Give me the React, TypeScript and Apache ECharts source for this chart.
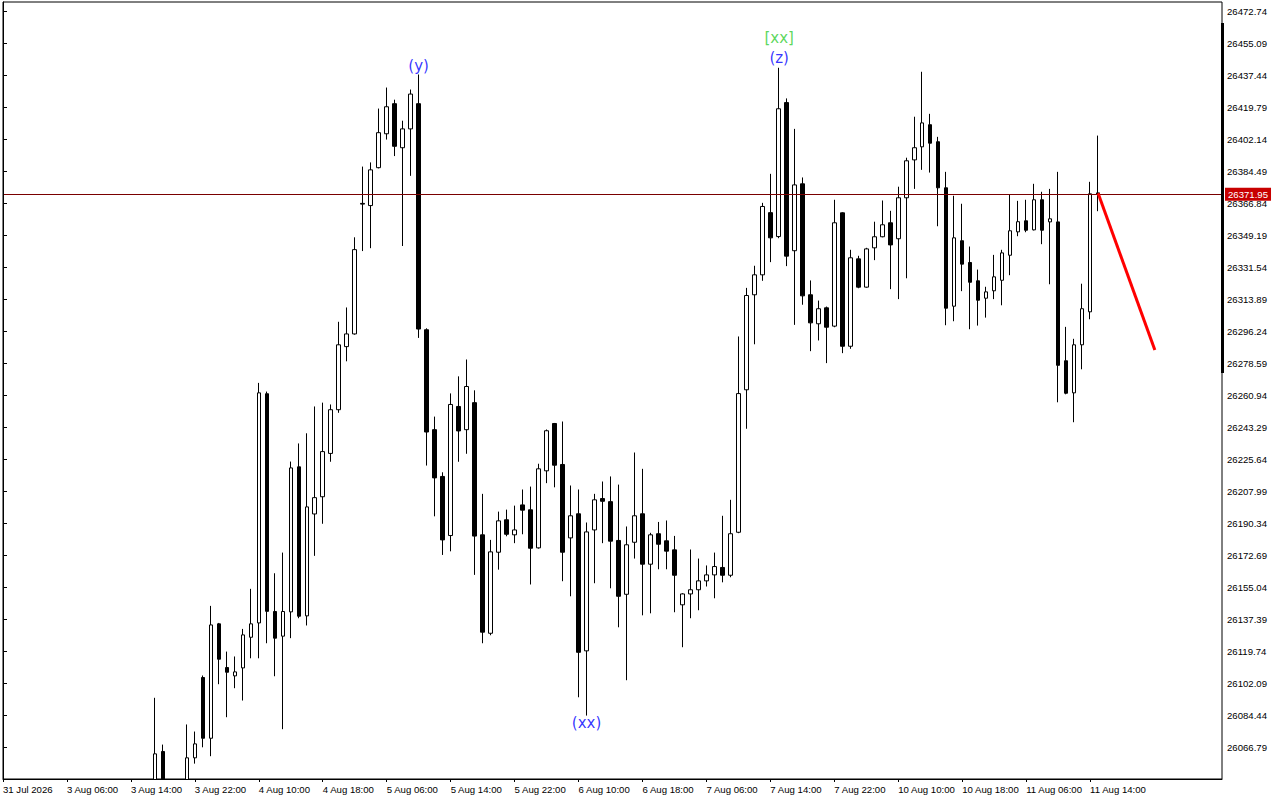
import React, { useEffect, useRef } from "react";
import * as echarts from "echarts";

// first bar index that carries data (bar i sits at the i-th hourly slot)
const FIRST_BAR = 19;

const opens = [
  26040, 26064.6, 26043, 26040, 26045, 26061.1, 26105.4, 26071.9, 26135.0, 26110.9,
  26106.3, 26110.7, 26127.6, 26135.5, 26261.9, 26141.8, 26128.2, 26141.6, 26221.6, 26139.4,
  26195.6, 26205.1, 26229.0, 26253.1, 26287.9, 26294.9, 26366.9, 26365.7, 26386.6, 26405.3,
  26421.9, 26397.6, 26408.0, 26421.9, 26297.2, 26242.1, 26216.3, 26183.7, 26254.9, 26242.1,
  26257.0, 26184.1, 26129.8, 26174.5, 26192.4, 26184.1, 26200.6, 26197.9, 26176.9, 26219.4,
  26245.5, 26222.9, 26182.4, 26195.7, 26120.1, 26186.8, 26204.1, 26202.4, 26181.0, 26151.3,
  26180.0, 26195.7, 26167.9, 26184.7, 26180.8, 26175.8, 26145.5, 26151.5, 26153.8, 26158.7,
  26162.0, 26166.1, 26161.8, 26185.5, 26264.1, 26316.5, 26327.5, 26361.8, 26348.6, 26422.5,
  26340.8, 26377.7, 26316.5, 26300.5, 26309.3, 26299.2, 26361.7, 26288.1, 26336.3, 26320.7,
  26342.4, 26348.5, 26356.2, 26347.4, 26370.0, 26390.9, 26398.1, 26410.3, 26400.9, 26375.5,
  26310.2, 26346.3, 26334.3, 26324.2, 26314.6, 26318.7, 26324.5, 26338.3, 26351.2, 26357.3,
  26352.3, 26368.9, 26356.7, 26356.7, 26280.1, 26262.4, 26288.9, 26307.1, 26372.7,
];
const closes = [
  26063.3, 26043, 26040, 26045, 26061.1, 26068.8, 26071.9, 26134.4, 26115.5, 26108.3,
  26108.5, 26128.9, 26135.0, 26262.4, 26141.9, 26127.1, 26141.8, 26221.0, 26139.2, 26199.5,
  26204.6, 26230.0, 26253.1, 26288.9, 26294.9, 26341.4, 26366.5, 26385.4, 26405.9, 26420.2,
  26398.4, 26408.0, 26427.2, 26297.6, 26240.8, 26215.5, 26181.3, 26256.0, 26241.4, 26265.9,
  26183.4, 26130.4, 26174.7, 26191.8, 26184.4, 26186.8, 26197.7, 26176.7, 26220.5, 26241.5,
  26222.5, 26174.5, 26194.6, 26119.3, 26185.7, 26203.4, 26202.6, 26180.6, 26150.2, 26178.6,
  26194.6, 26167.9, 26184.1, 26178.9, 26175.1, 26161.8, 26151.5, 26153.8, 26158.7, 26162.0,
  26166.6, 26161.8, 26184.7, 26262.0, 26316.1, 26327.5, 26365.2, 26347.9, 26419.1, 26337.8,
  26377.1, 26315.9, 26301.0, 26308.8, 26298.6, 26356.2, 26288.1, 26336.9, 26320.7, 26341.8,
  26348.5, 26355.1, 26344.0, 26370.0, 26390.4, 26397.6, 26411.3, 26400.1, 26375.5, 26309.1,
  26347.9, 26333.4, 26323.4, 26313.5, 26318.1, 26326.4, 26339.6, 26351.8, 26356.8, 26352.1,
  26368.9, 26352.1, 26358.4, 26277.6, 26262.2, 26288.9, 26308.8, 26372.2, 26371.95,
];
const lows = [
  26035, 26038, 26032, 26035, 26041, 26057.9, 26066.9, 26062.0, 26101.7, 26083.5,
  26099.5, 26092.7, 26116.0, 26116.0, 26124.3, 26106.1, 26076.9, 26127.1, 26138.1, 26134.1,
  26172.5, 26190.2, 26224.4, 26251.4, 26279.8, 26294.5, 26340.6, 26342.2, 26386.2, 26402.1,
  26393.0, 26343.4, 26382.1, 26292.7, 26222.3, 26194.3, 26173.0, 26175.0, 26224.4, 26228.8,
  26162.0, 26124.3, 26128.7, 26164.9, 26183.3, 26179.5, 26184.4, 26156.7, 26176.5, 26212.6,
  26210.3, 26158.5, 26150.2, 26094.5, 26084.4, 26157.4, 26179.5, 26154.6, 26133.1, 26103.9,
  26171.0, 26139.7, 26140.8, 26165.1, 26165.1, 26141.4, 26122.1, 26138.1, 26142.5, 26155.6,
  26149.1, 26157.9, 26160.7, 26185.0, 26242.6, 26289.2, 26324.2, 26334.5, 26347.7, 26332.3,
  26299.9, 26311.0, 26285.4, 26291.3, 26278.8, 26298.6, 26284.3, 26286.7, 26320.1, 26320.4,
  26335.6, 26348.2, 26319.6, 26314.1, 26325.6, 26374.9, 26385.4, 26383.9, 26354.3, 26299.7,
  26301.9, 26318.5, 26297.5, 26299.5, 26303.9, 26314.1, 26310.7, 26327.3, 26348.8, 26351.0,
  26352.0, 26344.4, 26322.3, 26257.2, 26261.6, 26246.2, 26275.4, 26303.0, 26362.6,
];
const highs = [
  26094.2, 26068.4, 26048, 26048, 26079.5, 26075.6, 26106.5, 26144.9, 26135.5, 26119.7,
  26117.0, 26132.2, 26154.3, 26267.9, 26263.1, 26162.9, 26174.3, 26224.5, 26234.5, 26240.1,
  26254.9, 26257.0, 26256.0, 26301.6, 26309.5, 26348.2, 26387.2, 26389.5, 26419.2, 26430.8,
  26424.1, 26412.5, 26429.7, 26438.0, 26298.0, 26249.3, 26218.6, 26262.1, 26271.5, 26280.8,
  26263.8, 26206.7, 26181.3, 26196.9, 26198.0, 26200.2, 26209.1, 26210.7, 26223.3, 26242.2,
  26245.8, 26246.6, 26211.3, 26209.1, 26190.9, 26206.7, 26213.5, 26216.3, 26211.8, 26188.7,
  26229.5, 26220.5, 26185.2, 26191.2, 26192.0, 26183.5, 26151.9, 26176.0, 26171.0, 26167.2,
  26174.3, 26194.6, 26203.4, 26293.5, 26320.3, 26332.5, 26367.2, 26383.2, 26441.7, 26424.8,
  26408.0, 26381.2, 26324.4, 26313.3, 26310.0, 26368.9, 26362.0, 26341.3, 26338.0, 26342.4,
  26356.8, 26368.5, 26362.8, 26376.1, 26392.1, 26414.7, 26439.5, 26416.3, 26403.6, 26384.3,
  26371.1, 26366.7, 26343.1, 26330.4, 26320.9, 26338.5, 26341.3, 26371.6, 26368.3, 26368.9,
  26377.7, 26373.3, 26374.9, 26384.3, 26298.8, 26292.2, 26322.6, 26378.8, 26404.3,
];

// time labels, one every 8 bars starting at bar 0
const tickLabels = [
  "31 Jul 2026", "3 Aug 06:00", "3 Aug 14:00", "3 Aug 22:00", "4 Aug 10:00", "4 Aug 18:00",
  "5 Aug 06:00", "5 Aug 14:00", "5 Aug 22:00", "6 Aug 10:00", "6 Aug 18:00", "7 Aug 06:00",
  "7 Aug 14:00", "7 Aug 22:00", "10 Aug 10:00", "10 Aug 18:00", "11 Aug 06:00", "11 Aug 14:00",
];
const TICK_STEP = 8;

const priceTicks = [
  26472.74, 26455.09, 26437.44, 26419.79, 26402.14, 26384.49, 26366.84, 26349.19,
  26331.54, 26313.89, 26296.24, 26278.59, 26260.94, 26243.29, 26225.64, 26207.99,
  26190.34, 26172.69, 26155.04, 26137.39, 26119.74, 26102.09, 26084.44, 26066.79,
];

const currentPrice = 26371.95;

// projection line (bar position, price)
const trendX = [137, 144.1];
const trendY = [26372.5, 26286.0];

// wave labels
const waveText = ["(y)", "[xx]", "(z)", "(xx)"];
const waveBar = [52, 97.1, 97.1, 73];
const wavePrice = [26442.7, 26458.1, 26446.9, 26080.3];
const waveColor = ["#0000ff", "#32cd32", "#0000ff", "#0000ff"];

const Y_MIN = 26049.42;
const Y_MAX = 26477.98;
const X_MAX = 152.5;

const AXIS_FONT = "Liberation Sans";
const AXIS_SIZE = 9.6;

export default function App() {
  const ref = useRef<HTMLDivElement>(null);

  useEffect(() => {
    if (!ref.current) return;
    const chart = echarts.init(ref.current, undefined, { renderer: "svg" });

    const candles = opens.map((o, k) => [FIRST_BAR + k, o, closes[k], lows[k], highs[k]]);
    const xTicks = tickLabels.map((_, j) => j * TICK_STEP);

    chart.setOption({
      animation: false,
      backgroundColor: "#ffffff",
      grid: {
        left: 2,
        top: 2,
        width: 1220,
        height: 777,
        show: true,
        borderColor: "#000000",
        borderWidth: 1,
        backgroundColor: "#ffffff",
      },
      xAxis: {
        type: "value",
        min: 0,
        max: X_MAX,
        position: "bottom",
        z: 20,
        axisLine: { show: true, onZero: false, lineStyle: { color: "#000", width: 1 } },
        axisTick: { show: true, length: 3, customValues: xTicks, lineStyle: { color: "#000" } },
        axisLabel: {
          show: true,
          customValues: xTicks,
          align: "left",
          margin: 5,
          color: "#000",
          fontFamily: AXIS_FONT,
          fontSize: AXIS_SIZE,
          formatter: (v: number) => tickLabels[Math.round(v / TICK_STEP)] ?? "",
        },
        splitLine: { show: false },
      },
      yAxis: {
        type: "value",
        position: "right",
        min: Y_MIN,
        max: Y_MAX,
        scale: true,
        z: 20,
        axisLine: { show: true, lineStyle: { color: "#000", width: 1 } },
        axisTick: { show: true, length: 4, customValues: priceTicks, lineStyle: { color: "#000" } },
        axisLabel: {
          show: true,
          customValues: priceTicks,
          margin: 5,
          color: "#000",
          fontFamily: AXIS_FONT,
          fontSize: AXIS_SIZE,
          formatter: (v: number) => v.toFixed(2),
        },
        splitLine: { show: false },
      },
      series: [
        {
          type: "candlestick",
          data: candles,
          barWidth: 4,
          clip: true,
          z: 2,
          itemStyle: {
            color: "#ffffff",
            color0: "#000000",
            borderColor: "#000000",
            borderColor0: "#000000",
            borderColorDoji: "#000000",
            borderWidth: 1,
          },
          markLine: {
            silent: true,
            symbol: ["none", "none"],
            animation: false,
            lineStyle: { color: "#7a0000", width: 1, type: "solid" },
            label: {
              show: true,
              position: "end",
              distance: 3,
              formatter: currentPrice.toFixed(2),
              color: "#ffffff",
              backgroundColor: "#c80000",
              padding: [2, 3, 1, 3],
              fontFamily: AXIS_FONT,
              fontSize: AXIS_SIZE,
            },
            emphasis: { disabled: true },
            data: [{ yAxis: currentPrice }],
          },
        },
        {
          type: "line",
          data: trendX.map((x, k) => [x, trendY[k]]),
          showSymbol: false,
          symbol: "none",
          lineStyle: { color: "#ff0000", width: 3 },
          z: 5,
        },
        {
          type: "scatter",
          symbolSize: 1,
          itemStyle: { color: "rgba(0,0,0,0)" },
          data: waveText.map((t, k) => ({
            value: [waveBar[k], wavePrice[k]],
            label: {
              show: true,
              position: "inside",
              formatter: t,
              color: waveColor[k],
              fontFamily: "DejaVu Sans",
              fontSize: 15,
            },
          })),
          z: 6,
        },
      ],
      graphic: [
        {
          // white mask below the plot frame, so candles under the visible price range stay hidden
          type: "rect",
          shape: { x: 0, y: 779.5, width: 1280, height: 21 },
          style: { fill: "#ffffff" },
          silent: true,
          z: 10,
        },
        {
          type: "rect",
          shape: { x: 1221, y: 23, width: 3, height: 350 },
          style: { fill: "#000000" },
          silent: true,
          z: 100,
        },
      ],
    });

    return () => chart.dispose();
  }, []);

  return (
    <div
      ref={ref}
      style={{ position: "fixed", left: 0, top: 0, width: 1280, height: 800, background: "#fff" }}
    />
  );
}
